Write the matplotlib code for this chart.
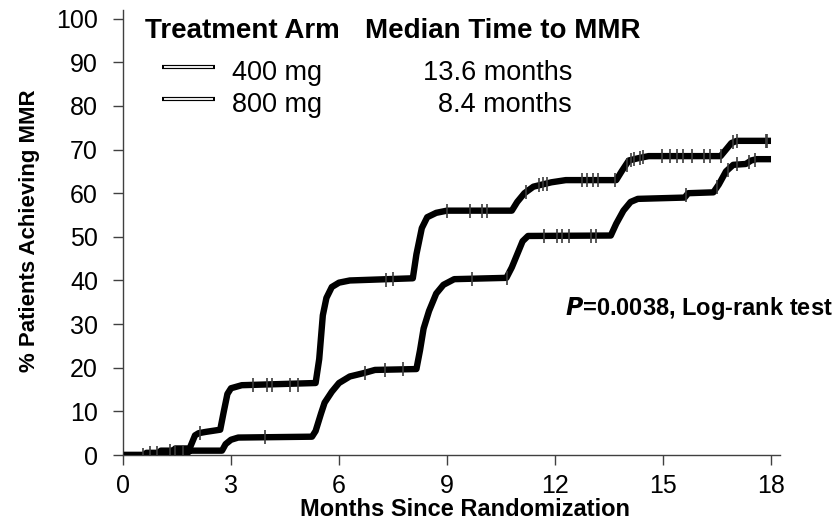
import matplotlib
matplotlib.use("Agg")
import matplotlib.pyplot as plt

plt.rcParams['font.family'] = ['Liberation Sans', 'DejaVu Sans']

# Kaplan-Meier style curves: months vs % patients achieving MMR
months_800 = [0, 0.6, 0.65, 1.0, 1.05, 1.4, 1.45, 1.85, 2.0, 2.1, 2.3, 2.7, 2.8, 2.9, 3.0, 3.3,
              5.35, 5.45, 5.55, 5.65, 5.8, 6.0, 6.3, 8.05, 8.15, 8.3, 8.45, 8.7, 9.0, 10.8,
              10.95, 11.15, 11.4, 11.9, 12.3, 13.7, 13.85, 14.05, 14.3, 14.6, 16.6, 16.75,
              16.9, 17.05, 18.0]
pct_800 = [0, 0, 0.5, 0.5, 1, 1, 1.5, 1.5, 4.5, 5, 5.3, 5.8, 10, 14, 15.3, 16,
           16.5, 22, 32, 36, 38.5, 39.5, 40, 40.5, 46, 52, 54.5, 55.5, 56, 56,
           58, 60, 61.5, 62.5, 63, 63, 65, 67.5, 68, 68.5, 68.5, 70,
           71.5, 72, 72]

months_400 = [0, 1.0, 1.05, 1.8, 1.85, 2.75, 2.85, 3.0, 3.2, 5.25, 5.35, 5.5, 5.6, 5.8, 6.0,
              6.3, 6.7, 7.0, 8.15, 8.25, 8.35, 8.5, 8.7, 8.9, 9.2, 10.65, 10.8, 10.95, 11.1,
              11.25, 13.55, 13.7, 13.9, 14.1, 14.3, 15.6, 15.7, 16.4, 16.55, 16.75, 16.95,
              17.3, 17.45, 17.6, 18.0]
pct_400 = [0, 0, 0.5, 0.5, 1.0, 1.0, 2.5, 3.5, 4.0, 4.2, 5.5, 9.5, 12, 14.5, 16.5,
           18, 18.8, 19.5, 19.7, 24, 29, 33, 37, 39, 40.3, 40.6, 43, 46, 49,
           50.2, 50.3, 53, 56, 58, 58.7, 59, 60, 60.2, 62, 65, 66.5,
           66.7, 67.5, 67.8, 67.8]

# censored observations
cens_x_800 = [0.0, 0.75, 0.95, 1.3, 2.15, 3.6, 4.0, 4.15, 4.65, 4.85, 7.3, 7.5, 9.0, 9.65,
              9.97, 10.1, 11.2, 11.55, 11.67, 11.78, 12.75, 12.9, 13.05, 13.2, 13.67, 14.0,
              14.1, 14.2, 14.35, 14.45, 14.97, 15.2, 15.4, 15.55, 15.8, 16.15, 16.3, 16.6,
              16.95, 17.05, 17.85, 17.9]
cens_y_800 = [0, 0.5, 0.5, 1, 5, 16, 16, 16, 16, 16, 40.2, 40.3, 56, 56,
              56, 56, 60.3, 61.8, 62, 62.2, 63, 63, 63, 63, 63, 66.5,
              67.6, 67.8, 68.1, 68.3, 68.5, 68.5, 68.5, 68.5, 68.5, 68.5, 68.5, 68.5,
              71.7, 72, 72, 72]
cens_x_400 = [0.55, 1.45, 1.67, 3.95, 6.72, 7.28, 7.78, 9.7, 10.67, 11.7, 12.05, 12.2, 12.4,
              13.0, 13.15, 15.65, 16.5, 16.8, 17.05, 17.4, 17.55]
cens_y_400 = [0, 0.5, 0.5, 4.1, 18.8, 19.5, 19.6, 40.4, 40.6, 50.2, 50.3, 50.3, 50.3,
              50.3, 50.3, 59.5, 61.4, 65.4, 66.6, 67.2, 67.7]

arms = ['400 mg', '800 mg']
medians = ['13.6 months', '8.4 months']
yticks = list(range(0, 101, 10))
xticks = list(range(0, 19, 3))

fig = plt.figure(figsize=(8.38, 5.23), dpi=100)
ax = fig.add_axes([0.1468, 0.13, 0.784, 0.851])

for mx, my, cx, cy in [(months_400, pct_400, cens_x_400, cens_y_400),
                       (months_800, pct_800, cens_x_800, cens_y_800)]:
    ax.plot(mx, my, color='black', lw=4.6, solid_joinstyle='round', solid_capstyle='butt',
            zorder=3)
    ax.plot(cx, cy, linestyle='none', marker='|', ms=9.5, mew=1.2, color='#3c3c3c', zorder=4)

ax.set_xlim(0, 18.25)
ax.set_ylim(0, 102)
ax.set_xticks(xticks)
ax.set_yticks(yticks)
ax.tick_params(axis='both', labelsize=18, length=7, width=1, color='#404040', direction='out')
ax.tick_params(axis='y', pad=11)
ax.tick_params(axis='x', pad=7)
for side in ['top', 'right']:
    ax.spines[side].set_visible(False)
for side in ['left', 'bottom']:
    ax.spines[side].set_color('#404040')
    ax.spines[side].set_linewidth(1)

ax.text(9.5, -14.0, 'Months Since Randomization', ha='center', va='baseline',
        fontsize=17, fontweight='bold', clip_on=False)
ax.text(-0.143, 0.503, '% Patients Achieving MMR', transform=ax.transAxes, rotation=90,
        ha='center', va='center', fontsize=16, fontweight='bold')

# legend table
ax.text(0.61, 95.6, 'Treatment Arm', ha='left', va='baseline', fontsize=20, fontweight='bold')
ax.text(6.72, 95.6, 'Median Time to MMR', ha='left', va='baseline', fontsize=20,
        fontweight='bold')
for arm, med, ly, ty in zip(arms, medians, [89.0, 81.7], [86.0, 78.7]):
    ax.plot([1.08, 2.56], [ly, ly], color='black', lw=3.0, solid_capstyle='butt', clip_on=False)
    ax.plot([1.13, 2.51], [ly, ly], color='white', lw=1.3, solid_capstyle='butt', clip_on=False)
    ax.text(3.03, ty, arm, ha='left', va='baseline', fontsize=19.5)
    ax.text(12.47, ty, med, ha='right', va='baseline', fontsize=19.5)

ax.text(19.72, 32.0, r'$\bfit{P}$=0.0038, Log-rank test', ha='right', va='baseline',
        fontsize=17, fontweight='bold', clip_on=False)

fig.savefig('out.png', dpi=100)
